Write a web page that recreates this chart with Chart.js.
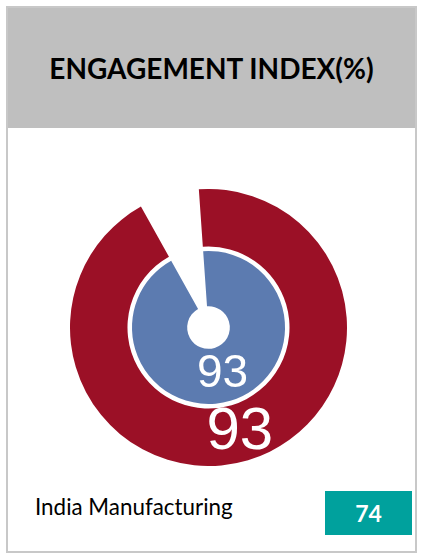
<!DOCTYPE html>
<html>
<head>
<meta charset="utf-8">
<script src="https://cdn.jsdelivr.net/npm/chart.js@4.4.1/dist/chart.umd.min.js"></script>
<style>
  html, body { margin: 0; padding: 0; background: #fff; }
  body { width: 423px; height: 557px; position: relative; overflow: hidden; }
  .card {
    position: absolute; left: 6px; top: 6px; width: 407px; height: 543px;
    border: 2px solid #c8c8c8; background: #fff;
  }
  .card-head {
    height: 120px; background: #bfbfbf;
    display: flex; align-items: center; justify-content: center;
    font-family: Lato, "Open Sans", sans-serif; font-weight: 700; font-size: 28px; color: #000;
  }
  #ringChart { position: absolute; left: 62px; top: 181px; }
  .bench-name {
    position: absolute; left: 27px; top: 485px;
    font-family: Lato, "Open Sans", sans-serif; font-size: 22.4px; color: #000;
  }
  .bench-value {
    position: absolute; left: 317px; top: 483px; width: 87px; height: 44px;
    background: #00a19d; color: #fff;
    display: flex; align-items: center; justify-content: center;
    font-family: Lato, "Open Sans", sans-serif; font-weight: 700; font-size: 23px;
  }
</style>
</head>
<body>
<div class="card">
  <div class="card-head">ENGAGEMENT INDEX(%)</div>
  <canvas id="ringChart" width="277" height="277"></canvas>
  <div class="bench-name" id="benchName"></div>
  <div class="bench-value" id="benchValue"></div>
</div>
<script>
// outer ring, inner ring
const ringScores = [93, 93];
const ringColors = ['#9b1026', '#5c7bb0'];
const ringWeights = [57.5, 55.2];
const labelSizes = [60, 46];

const benchmarkNames = ['India Manufacturing'];
const benchmarkScores = [74];

document.getElementById('benchName').textContent = benchmarkNames[0];
document.getElementById('benchValue').textContent = benchmarkScores[0];

// prints the score in the middle of each ring's filled arc
const arcValueLabels = {
  id: 'arcValueLabels',
  afterDatasetsDraw(chart) {
    const ctx = chart.ctx;
    chart.data.datasets.forEach((ds, i) => {
      if (!ds.labelSize) return;
      const arc = chart.getDatasetMeta(i).data[0];
      const pos = arc.tooltipPosition();
      ctx.save();
      ctx.font = ds.labelSize + 'px "Liberation Sans", Arial, sans-serif';
      ctx.fillStyle = '#fff';
      ctx.textAlign = 'center';
      ctx.textBaseline = 'middle';
      ctx.fillText(String(ds.data[0]), pos.x, pos.y);
      ctx.restore();
    });
  }
};

const ring = (i) => ({
  data: [ringScores[i], 100 - ringScores[i]],
  backgroundColor: [ringColors[i], 'rgba(0,0,0,0)'],
  borderWidth: 0,
  weight: ringWeights[i],
  labelSize: labelSizes[i]
});

new Chart(document.getElementById('ringChart'), {
  type: 'doughnut',
  data: {
    labels: ['Score', ''],
    datasets: [
      ring(0),
      // thin white band between the two rings
      { data: [1], backgroundColor: ['rgba(0,0,0,0)'], borderWidth: 0, weight: 4.5 },
      ring(1)
    ]
  },
  options: {
    responsive: false,
    animation: false,
    events: [],
    cutout: '15.4%',
    rotation: -4,
    layout: { padding: 0 },
    plugins: {
      legend: { display: false },
      tooltip: { enabled: false }
    }
  },
  plugins: [arcValueLabels]
});
</script>
</body>
</html>
